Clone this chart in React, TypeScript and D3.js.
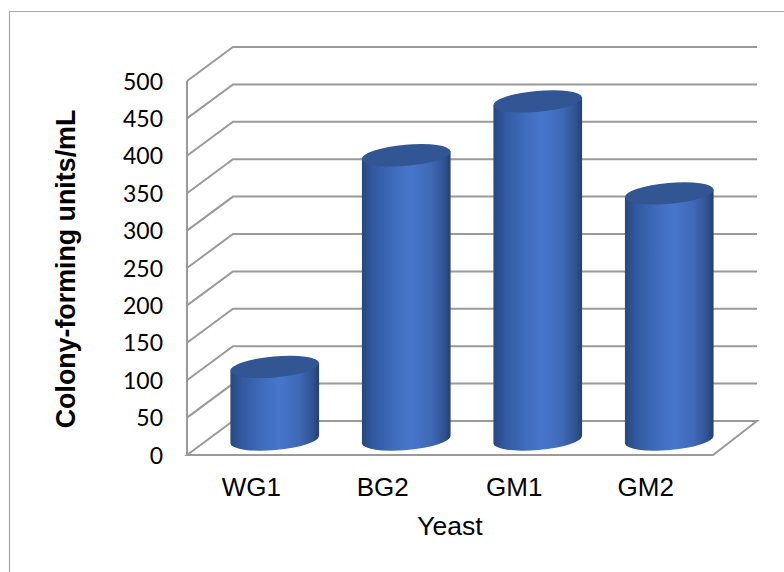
import React from "react";
import * as d3 from "d3";

const categories = ["WG1", "BG2", "GM1", "GM2"];
const values = [97, 380, 452, 329];
const yTicks = [0, 50, 100, 150, 200, 250, 300, 350, 400, 450, 500];
const yTitle = "Colony-forming units/mL";
const xTitle = "Yeast";

const frontLeft = 187, frontRight = 713, depthX = 46, depthY = 34;
const y = d3.scaleLinear().domain([0, 500]).range([455, 81]);
const x = d3.scaleBand<string>().domain(categories).range([209, 735]).paddingInner(0.33).paddingOuter(0.165);
const wall = "#9a9a9a";
const rx = 44.5, ry = 10.5, tilt = -5;

export default function App() {
  const baseOffset = 15.5;
  const rad = (tilt * Math.PI) / 180;
  const dx = rx * Math.cos(rad), dy = rx * Math.sin(rad);
  return (
    <svg width={784} height={572} style={{ position: "absolute", left: 0, top: 0, background: "#fff" }}>
      <defs>
        <linearGradient id="cyl" x1="0" x2="1" y1="0" y2="0">
          <stop offset="0" stopColor="#27477f" />
          <stop offset="0.12" stopColor="#31589f" />
          <stop offset="0.35" stopColor="#3f6bbb" />
          <stop offset="0.55" stopColor="#4776cc" />
          <stop offset="0.78" stopColor="#3f69b6" />
          <stop offset="0.93" stopColor="#2f5290" />
          <stop offset="1" stopColor="#253f70" />
        </linearGradient>
      </defs>
      <path d="M784,11.5H9.5V572" fill="none" stroke="#a6a6a6" strokeWidth={1.2} />
      {yTicks.map((t) => (
        <path key={t} fill="none" stroke={wall} strokeWidth={2}
          d={t === 0
            ? `M${frontLeft},${y(0)}L${frontLeft + depthX},${y(0) - depthY}H${frontRight + 44}L${frontRight},${y(0)}Z`
            : `M${frontLeft},${y(t)}L${frontLeft + depthX},${y(t) - depthY}H${frontRight + 44}`} />
      ))}
      <line x1={frontLeft} x2={frontLeft} y1={y(0)} y2={y(500)} stroke={wall} strokeWidth={2} />
      {categories.map((c, i) => {
        const cx = (x(c) as number) + x.bandwidth() / 2;
        const baseY = y(0) - baseOffset;
        const topY = y(values[i]) - baseOffset;
        return (
          <g key={c}>
            <path fill="url(#cyl)"
              d={`M${cx - dx},${topY - dy}L${cx - dx},${baseY - dy}A${rx},${ry} ${tilt} 0 0 ${cx + dx},${baseY + dy}L${cx + dx},${topY + dy}Z`} />
            <ellipse cx={cx} cy={topY} rx={rx} ry={ry} fill="#315693" transform={`rotate(${tilt} ${cx} ${topY})`} />
            <text x={cx - 23.5} y={496} textAnchor="middle" fontFamily="Liberation Sans" fontSize={26} fill="#000">{c}</text>
          </g>
        );
      })}
      {yTicks.map((t) => (
        <text key={t} x={163} y={y(t) + 8.5} textAnchor="end" fontFamily="Lato" fontSize={23} fill="#000">{t}</text>
      ))}
      <text x={450} y={535} textAnchor="middle" fontFamily="Liberation Sans" fontSize={26.5} fill="#000">{xTitle}</text>
      <text transform="translate(75,269) rotate(-90)" textAnchor="middle" fontFamily="Liberation Sans" fontWeight="bold" fontSize={26.8} fill="#000">{yTitle}</text>
    </svg>
  );
}
